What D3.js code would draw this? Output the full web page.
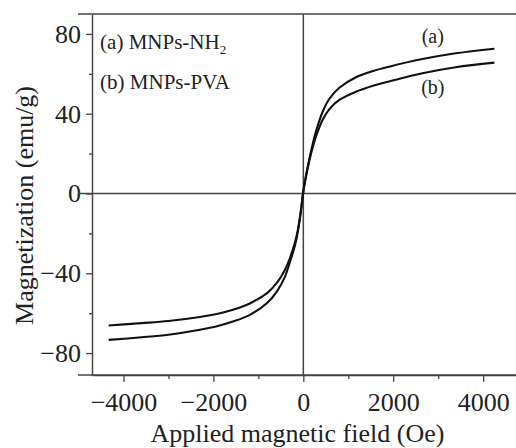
<!DOCTYPE html>
<html>
<head>
<meta charset="utf-8">
<script src="https://cdn.jsdelivr.net/npm/d3@7"></script>
<style>
  html, body { margin: 0; padding: 0; background: #fff; }
  svg { display: block; }
  text { font-family: "Liberation Serif", "Times New Roman", serif; fill: #222; }
</style>
</head>
<body>
<svg id="chart" width="516" height="448"></svg>
<script>
// Applied field (Oe) and magnetization (emu/g) of the two samples
const field = [-4330, -3600, -3000, -2300, -1900, -1550, -1180, -800, -590, -410, -300, -185, -120, -60,
               0, 60, 130, 200, 280, 430, 580, 800, 1170, 1550, 1910, 2650, 3390, 4250];
const magNH2 = [-73.4, -72.1, -70.8, -68.3, -66.4, -64.1, -60.7, -54.8, -49.2, -41.8, -34.5, -26.0, -19.0, -10.0,
                1.0, 9.0, 17.0, 24.0, 31.0, 41.0, 47.5, 53.0, 58.3, 61.4, 63.6, 67.4, 70.3, 72.6];
const magPVA = [-66.2, -65.0, -63.9, -61.9, -60.3, -58.2, -55.0, -49.8, -44.8, -38.3, -32.5, -24.5, -18.0, -9.5,
                1.0, 8.5, 16.0, 22.5, 28.5, 37.0, 42.3, 46.9, 51.0, 54.0, 56.2, 60.3, 63.3, 65.6];

const xMajor = [-4000, -2000, 0, 2000, 4000];
const xMinor = [-3000, -1000, 1000, 3000];
const yMajor = [-80, -40, 0, 40, 80];
const yMinor = [-60, -20, 20, 60];

const xTitle = "Applied magnetic field (Oe)";
const yTitle = "Magnetization (emu/g)";
const curveTags = ["(a)", "(b)"];

const svg = d3.select("#chart");
const axisColor = "#444";

const x = d3.scaleLinear().domain([-4700, 4730]).range([92, 516]);
const y = d3.scaleLinear().domain([-91, 90]).range([375, 14]);
const fmt = d3.format("d");

// minor ticks
svg.append("g")
  .attr("transform", `translate(${x.range()[0]},0)`)
  .call(d3.axisLeft(y).tickValues(yMinor).tickSize(3).tickFormat(""))
  .call(g => g.select(".domain").remove())
  .call(g => g.selectAll("line").attr("stroke", axisColor).attr("stroke-width", 1.3));
svg.append("g")
  .attr("transform", `translate(0,${y.range()[0]})`)
  .call(d3.axisBottom(x).tickValues(xMinor).tickSize(4).tickFormat(""))
  .call(g => g.select(".domain").remove())
  .call(g => g.selectAll("line").attr("stroke", axisColor).attr("stroke-width", 1.3));

// major axes
const yAxis = svg.append("g")
  .attr("transform", `translate(${x.range()[0]},0)`)
  .call(d3.axisLeft(y).tickValues(yMajor).tickSize(6).tickSizeOuter(0).tickPadding(5).tickFormat(fmt));
const xAxis = svg.append("g")
  .attr("transform", `translate(0,${y.range()[0]})`)
  .call(d3.axisBottom(x).tickValues(xMajor).tickSize(7).tickSizeOuter(0).tickPadding(11).tickFormat(fmt));

[yAxis, xAxis].forEach(g => {
  g.select(".domain").attr("stroke", axisColor).attr("stroke-width", 1.5);
  g.selectAll(".tick line").attr("stroke", axisColor).attr("stroke-width", 1.3);
  g.selectAll(".tick text")
    .attr("fill", "#222")
    .style("font-family", '"Liberation Serif", serif')
    .style("font-size", "26px");
});

// frame lines: top, bottom and the zero line, reaching a little left of the y axis
const x0 = x.range()[0] - 14;
const x1 = x.range()[1];
[y.range()[1], y.range()[0], y(0)].forEach(yy => {
  svg.append("line")
    .attr("x1", x0).attr("x2", x1).attr("y1", yy).attr("y2", yy)
    .attr("stroke", axisColor).attr("stroke-width", 1.5);
});
// vertical zero line
svg.append("line")
  .attr("x1", x(0)).attr("x2", x(0)).attr("y1", y.range()[1]).attr("y2", y.range()[0])
  .attr("stroke", axisColor).attr("stroke-width", 1.5);

// magnetization curves
const line = d3.line().x(d => x(d[0])).y(d => y(d[1])).curve(d3.curveCatmullRom.alpha(0.5));
[magNH2, magPVA].forEach(series => {
  svg.append("path")
    .datum(field.map((f, i) => [f, series[i]]))
    .attr("d", line)
    .attr("fill", "none")
    .attr("stroke", "#111")
    .attr("stroke-width", 2.1);
});

// curve tags
svg.append("text").attr("x", x(2880)).attr("y", y(75.5))
  .attr("text-anchor", "middle").style("font-size", "20px").text(curveTags[0]);
svg.append("text").attr("x", x(2880)).attr("y", y(50))
  .attr("text-anchor", "middle").style("font-size", "20px").text(curveTags[1]);

// legend
const leg = svg.append("g").style("font-size", "21px");
const t1 = leg.append("text").attr("x", x(-4520)).attr("y", y(72.5));
t1.append("tspan").text("(a) MNPs-NH");
t1.append("tspan").attr("dy", 5).style("font-size", "13px").text("2");
leg.append("text").attr("x", x(-4520)).attr("y", y(52.5)).text("(b) MNPs-PVA");

// axis titles
svg.append("text")
  .attr("x", x(-130)).attr("y", 442)
  .attr("text-anchor", "middle").style("font-size", "26px").text(xTitle);
svg.append("text")
  .attr("transform", `translate(33,${y(-6)}) rotate(-90)`)
  .attr("text-anchor", "middle").style("font-size", "26px").text(yTitle);
</script>
</body>
</html>
